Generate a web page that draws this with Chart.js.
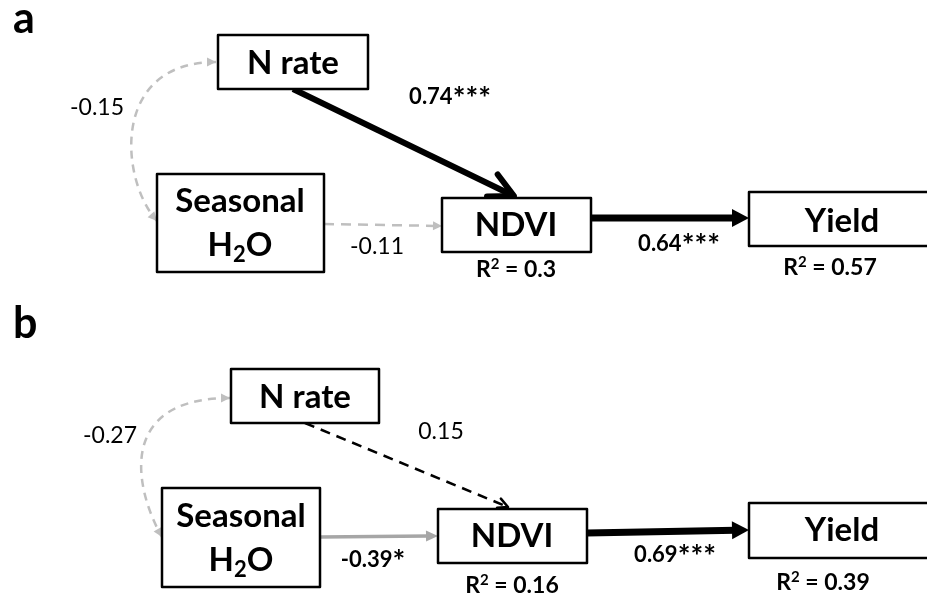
<!DOCTYPE html>
<html>
<head>
<meta charset="utf-8">
<script src="https://cdn.jsdelivr.net/npm/chart.js@4.4.1/dist/chart.umd.min.js"></script>
<style>
  html, body { margin: 0; padding: 0; background: #fff; }
  #wrap { width: 927px; height: 596px; }
</style>
</head>
<body>
<div id="wrap"><canvas id="pathChart" width="927" height="596"></canvas></div>
<script>
// path model values
const panels = ['a', 'b'];
const nodes = ['N rate', 'Seasonal H2O', 'NDVI', 'Yield'];
const paths = ['N rate ~ Seasonal H2O', 'N rate -> NDVI', 'Seasonal H2O -> NDVI', 'NDVI -> Yield'];
const coefA = [-0.15, 0.74, -0.11, 0.64];
const starsA = ['', '***', '', '***'];
const coefB = [-0.27, 0.15, -0.39, 0.69];
const starsB = ['', '', '*', '***'];
const r2Nodes = ['NDVI', 'Yield'];
const r2A = [0.3, 0.57];
const r2B = [0.16, 0.39];

const FONT = 'Lato, "Open Sans", sans-serif';
const GREY = '#bfbfbf';

// layout in figure units (x to the right, y downwards)
const layout = {
  a: {
    letter: [13, 33],
    boxes: {
      'N rate': [218, 35, 368, 89],
      'Seasonal H2O': [157, 174, 324, 272],
      'NDVI': [442, 198, 591, 252],
      'Yield': [749, 192, 940, 246]
    },
    text: {
      'N rate': [293, 74],
      'Seasonal H2O': [240, 212, 256],
      'NDVI': [516, 236],
      'Yield': [842, 232]
    },
    edges: [
      { curve: [216, 62, 110, 62, 120, 180, 157, 221], color: GREY, width: 2.5, dash: [8, 6], head: 'filled', len: 9, half: 4.5, both: true },
      { line: [293, 89, 514, 196], color: '#000', width: 6, head: 'open', len: 27 },
      { line: [324, 224, 442, 226], color: GREY, width: 2.5, dash: [10, 7], head: 'filled', len: 9, half: 4.5 },
      { line: [591, 218, 749, 218], color: '#000', width: 7, head: 'filled', len: 17, half: 9 }
    ],
    labels: [[97, 115], [450, 104], [377, 254], [679, 251]],
    r2: [[516, 277], [830, 275]]
  },
  b: {
    letter: [13, 338],
    boxes: {
      'N rate': [231, 369, 379, 423],
      'Seasonal H2O': [162, 488, 320, 587],
      'NDVI': [438, 509, 587, 563],
      'Yield': [749, 503, 940, 558]
    },
    text: {
      'N rate': [305, 408],
      'Seasonal H2O': [241, 527, 571],
      'NDVI': [512, 547],
      'Yield': [842, 541]
    },
    edges: [
      { curve: [230, 398, 115, 398, 135, 490, 162, 537], color: GREY, width: 2.5, dash: [8, 6], head: 'filled', len: 9, half: 4.5, both: true },
      { line: [305, 423, 508, 507], color: '#000', width: 2.5, dash: [10, 7], head: 'open', len: 11 },
      { line: [320, 537, 438, 536], color: '#a6a6a6', width: 3.5, head: 'filled', len: 12, half: 5.5 },
      { line: [587, 533, 749, 530], color: '#000', width: 7, head: 'filled', len: 17, half: 9 }
    ],
    labels: [[110, 443], [441, 439], [373, 567], [675, 562]],
    r2: [[512, 593], [823, 590]]
  }
};

const values = {
  a: { coef: coefA, stars: starsA, r2: r2A },
  b: { coef: coefB, stars: starsB, r2: r2B }
};

function head(ctx, tx, ty, fx, fy, e) {
  const ang = Math.atan2(ty - fy, tx - fx);
  ctx.setLineDash([]);
  if (e.head === 'open') {
    const spread = 27 * Math.PI / 180;
    ctx.lineWidth = e.width;
    ctx.lineJoin = 'round';
    ctx.lineCap = 'round';
    ctx.beginPath();
    ctx.moveTo(tx - e.len * Math.cos(ang - spread), ty - e.len * Math.sin(ang - spread));
    ctx.lineTo(tx, ty);
    ctx.lineTo(tx - e.len * Math.cos(ang + spread), ty - e.len * Math.sin(ang + spread));
    ctx.stroke();
  } else {
    const bx = tx - e.len * Math.cos(ang), by = ty - e.len * Math.sin(ang);
    const px = -Math.sin(ang) * e.half, py = Math.cos(ang) * e.half;
    ctx.beginPath();
    ctx.moveTo(tx, ty);
    ctx.lineTo(bx + px, by + py);
    ctx.lineTo(bx - px, by - py);
    ctx.closePath();
    ctx.fill();
  }
}

// text made of runs with their own font and vertical shift
function richText(ctx, parts, cx, y) {
  let total = 0;
  parts.forEach(p => { ctx.font = p.font; p.w = ctx.measureText(p.t).width; total += p.w; });
  let x = cx - total / 2;
  ctx.textAlign = 'left';
  parts.forEach(p => {
    ctx.font = p.font;
    ctx.fillText(p.t, x, y + (p.dy || 0));
    x += p.w;
  });
}

const pathDiagram = {
  id: 'pathDiagram',
  afterDraw(chart) {
    const ctx = chart.ctx;
    const X = v => chart.scales.x.getPixelForValue(v);
    const Y = v => chart.scales.y.getPixelForValue(v);
    ctx.save();
    ctx.fillStyle = '#fff';
    ctx.fillRect(0, 0, chart.width, chart.height);
    ctx.textBaseline = 'alphabetic';

    panels.forEach(p => {
      const L = layout[p], V = values[p];

      ctx.fillStyle = '#000';
      ctx.font = 'bold 43px ' + FONT;
      ctx.textAlign = 'left';
      ctx.fillText(p, X(L.letter[0]), Y(L.letter[1]));

      // edges
      paths.forEach((name, i) => {
        const e = L.edges[i];
        ctx.strokeStyle = e.color;
        ctx.fillStyle = e.color;
        ctx.lineWidth = e.width;
        ctx.lineCap = 'butt';
        ctx.setLineDash(e.dash || []);
        if (e.curve) {
          const c = e.curve;
          ctx.beginPath();
          ctx.moveTo(X(c[0]), Y(c[1]));
          ctx.bezierCurveTo(X(c[2]), Y(c[3]), X(c[4]), Y(c[5]), X(c[6]), Y(c[7]));
          ctx.stroke();
          head(ctx, X(c[6]), Y(c[7]), X(c[4]), Y(c[5]), e);
          if (e.both) head(ctx, X(c[0]), Y(c[1]), X(c[2]), Y(c[3]), e);
        } else {
          const l = e.line;
          const x0 = X(l[0]), y0 = Y(l[1]), x1 = X(l[2]), y1 = Y(l[3]);
          const ang = Math.atan2(y1 - y0, x1 - x0);
          const back = e.head === 'open' ? e.width * 0.5 : e.len * 0.8;
          ctx.beginPath();
          ctx.moveTo(x0, y0);
          ctx.lineTo(x1 - back * Math.cos(ang), y1 - back * Math.sin(ang));
          ctx.stroke();
          head(ctx, x1, y1, x0, y0, e);
        }
      });
      ctx.setLineDash([]);

      // boxes
      ctx.strokeStyle = '#000';
      ctx.lineWidth = 2.5;
      nodes.forEach(n => {
        const b = L.boxes[n];
        ctx.fillStyle = '#fff';
        ctx.fillRect(X(b[0]), Y(b[1]), X(b[2]) - X(b[0]), Y(b[3]) - Y(b[1]));
        ctx.strokeRect(X(b[0]), Y(b[1]), X(b[2]) - X(b[0]), Y(b[3]) - Y(b[1]));
        ctx.fillStyle = '#000';
        const t = L.text[n];
        ctx.font = 'bold 33px ' + FONT;
        ctx.textAlign = 'center';
        if (n === 'Seasonal H2O') {
          ctx.fillText('Seasonal', X(t[0]), Y(t[1]));
          richText(ctx, [
            { t: 'H', font: 'bold 33px ' + FONT },
            { t: '2', font: 'bold 22px ' + FONT, dy: 6 },
            { t: 'O', font: 'bold 33px ' + FONT }
          ], X(t[0]), Y(t[2]));
        } else {
          ctx.fillText(n, X(t[0]), Y(t[1]));
        }
      });

      // path coefficients, bold when significant
      V.coef.forEach((c, i) => {
        const x = X(L.labels[i][0]), y = Y(L.labels[i][1]);
        if (V.stars[i] !== '') {
          richText(ctx, [
            { t: String(c), font: 'bold 22px ' + FONT },
            { t: V.stars[i], font: 'bold 30px ' + FONT, dy: 5 }
          ], x, y);
        } else {
          ctx.font = '23px ' + FONT;
          ctx.textAlign = 'center';
          ctx.fillText(String(c), x, y);
        }
      });

      // explained variance
      r2Nodes.forEach((n, i) => {
        richText(ctx, [
          { t: 'R', font: 'bold 23px ' + FONT },
          { t: '2', font: 'bold 15px ' + FONT, dy: -8 },
          { t: ' = ' + String(V.r2[i]), font: 'bold 23px ' + FONT }
        ], X(L.r2[i][0]), Y(L.r2[i][1]));
      });
    });
    ctx.restore();
  }
};

new Chart(document.getElementById('pathChart').getContext('2d'), {
  type: 'scatter',
  data: { datasets: [] },
  options: {
    responsive: false,
    animation: false,
    layout: { padding: 0 },
    plugins: { legend: { display: false }, tooltip: { enabled: false } },
    scales: {
      x: { type: 'linear', min: 0, max: 927, display: false },
      y: { type: 'linear', min: 0, max: 596, reverse: true, display: false }
    }
  },
  plugins: [pathDiagram]
});
</script>
</body>
</html>
